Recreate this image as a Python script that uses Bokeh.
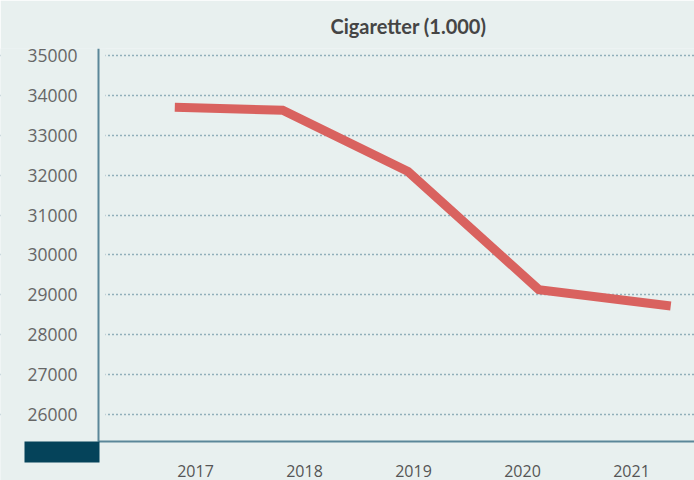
from bokeh.plotting import figure
from bokeh.models import Range1d, FixedTicker, BasicTickFormatter, ColumnDataSource, BoxAnnotation
from bokeh.embed import file_html
from bokeh.resources import INLINE

# ---- data ----
years = [2017, 2018, 2019, 2020, 2021]
# x position of each point as read against the year axis of the picture
point_x = [2016.81, 2017.80, 2018.95, 2020.15, 2021.36]
cigarettes = [33700, 33630, 32090, 29130, 28720]
y_ticks = [26000, 27000, 28000, 29000, 30000, 31000, 32000, 33000, 34000, 35000]
x_ticks = [2017, 2018, 2019, 2020, 2021]
title_text = "Cigaretter (1.000)"

# ---- style / layout ----
BG = "#e8f0ef"
AXIS = "#5b8799"
NAVY = "#05435a"
W, H, TOP = 694, 480, 48          # frame spans x 0..694, y 48..480 (pixels)
AXIS_X_PX, AXIS_Y_PX = 98, 441    # where the two axes cross (pixels)

# pixel <-> data helpers (layout only)
LBL_PX0, LBL_STEP = 195, 109.0    # 2017 at px 195, 109 px per year
Y_REF_PX, Y_PER_PX = 55, 1000 / 39.889   # 35000 at px 55


def xv(px):
    return 2017 + (px - LBL_PX0) / LBL_STEP


def yv(py):
    return 35000 - (py - Y_REF_PX) * Y_PER_PX


p = figure(width=W, height=H, output_backend="svg", toolbar_location=None,
           x_range=Range1d(xv(0), xv(W)), y_range=Range1d(yv(H), yv(TOP)),
           min_border_left=0, min_border_right=0, min_border_top=TOP, min_border_bottom=0,
           background_fill_color=BG, border_fill_color=BG, outline_line_color=None,
           title=title_text)

p.title.align = "left"
p.title.offset = 330
p.title.text_font = "Lato"
p.title.text_font_style = "bold"
p.title.text_font_size = "20px"
p.title.text_color = "#454545"
p.title.standoff = 21

# grid (dotted), hidden left of the y axis
p.xgrid.visible = False
p.ygrid.ticker = FixedTicker(ticks=y_ticks)
p.ygrid.grid_line_color = "#3b6e84"
p.ygrid.grid_line_dash = "1 3"
p.ygrid.grid_line_width = 1.3
p.add_layout(BoxAnnotation(right=xv(AXIS_X_PX + 7), fill_color=BG, fill_alpha=1,
                           line_color=None, level="underlay"))

# data line
src = ColumnDataSource(dict(x=point_x, y=cigarettes, year=years))
p.line("x", "y", source=src, line_color="#d9625f",
       line_width=9, line_cap="butt", line_join="miter")

# axes placed at fixed locations inside the frame
xa = p.xaxis[0]
xa.fixed_location = yv(AXIS_Y_PX)
xa.bounds = (xv(AXIS_X_PX), xv(W))
xa.ticker = FixedTicker(ticks=x_ticks)
xa.axis_line_color = AXIS
xa.axis_line_width = 2
xa.major_tick_line_color = None
xa.minor_tick_line_color = None
xa.major_tick_out = 0
xa.major_label_text_font = "Open Sans"
xa.major_label_text_font_size = "16px"
xa.major_label_text_color = "#555555"
xa.major_label_standoff = 23
xa.formatter = BasicTickFormatter(use_scientific=False)

ya = p.yaxis[0]
ya.fixed_location = xv(AXIS_X_PX)
ya.bounds = (yv(AXIS_Y_PX), yv(TOP))
ya.ticker = FixedTicker(ticks=y_ticks)
ya.axis_line_color = AXIS
ya.axis_line_width = 2
ya.major_tick_line_color = None
ya.minor_tick_line_color = None
ya.major_tick_out = 0
ya.major_label_text_font = "Open Sans"
ya.major_label_text_font_size = "17.5px"
ya.major_label_text_color = "#666666"
ya.major_label_standoff = 21
ya.formatter = BasicTickFormatter(use_scientific=False)

# decorative dark block in the lower-left corner
p.add_layout(BoxAnnotation(left=xv(24), right=xv(AXIS_X_PX + 1),
                           top=yv(AXIS_Y_PX), bottom=yv(462),
                           fill_color=NAVY, fill_alpha=1, line_color=None))

open("out.html", "w").write(file_html(p, INLINE))
